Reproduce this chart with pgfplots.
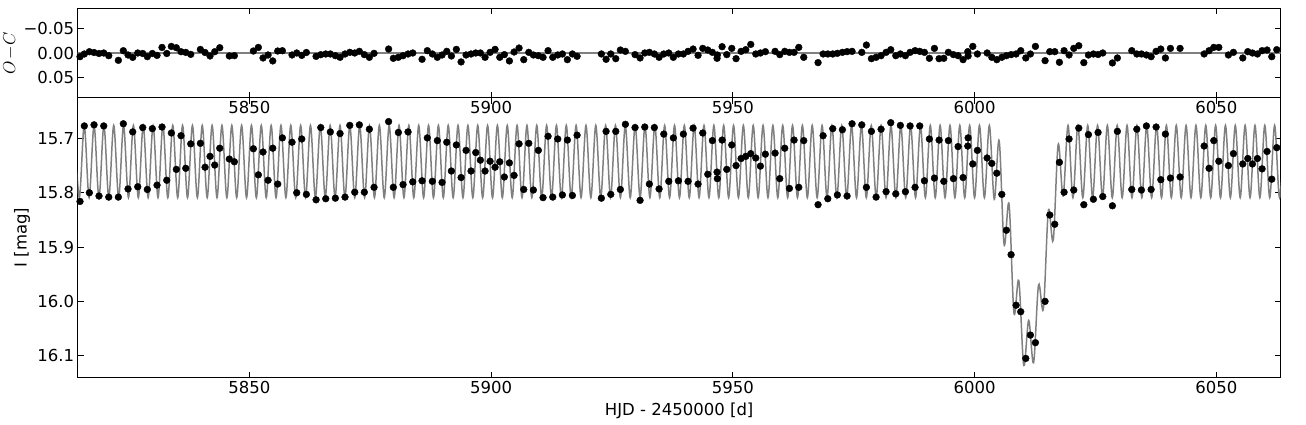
\documentclass[border=0pt]{standalone}
\usepackage{fontspec}
\setmainfont{DejaVu Sans}
\usepackage{pgfplots}
\usepackage{pgfplotstable}
\pgfplotsset{compat=1.18}
\definecolor{modelgray}{rgb}{0.5,0.5,0.5}

\pgfplotstableread{
t m
5814.98 15.816
5815.87 15.677
5816.91 15.800
5817.88 15.675
5818.91 15.806
5819.89 15.677
5820.92 15.808
5822.91 15.808
5823.94 15.673
5824.91 15.793
5825.88 15.688
5826.92 15.789
5827.95 15.680
5828.90 15.794
5829.94 15.682
5830.91 15.786
5831.94 15.679
5832.92 15.777
5833.87 15.690
5834.90 15.757
5835.87 15.695
5836.85 15.755
5837.88 15.710
5839.87 15.709
5840.84 15.753
5841.87 15.733
5842.84 15.749
5843.88 15.718
5845.86 15.738
5846.90 15.743
5850.83 15.719
5851.86 15.767
5852.83 15.725
5853.87 15.777
5854.84 15.718
5855.87 15.784
5856.83 15.699
5858.83 15.707
5859.80 15.800
5860.84 15.701
5861.79 15.803
5863.80 15.813
5864.77 15.680
5865.80 15.811
5866.75 15.688
5867.79 15.810
5868.76 15.691
5869.79 15.808
5870.77 15.676
5871.80 15.799
5872.75 15.675
5873.78 15.799
5874.82 15.683
5875.79 15.790
5878.80 15.669
5879.78 15.790
5880.82 15.689
5881.79 15.785
5882.82 15.688
5883.80 15.780
5885.72 15.778
5886.81 15.699
5887.85 15.779
5888.88 15.704
5889.86 15.781
5890.83 15.707
5891.78 15.760
5892.81 15.712
5893.79 15.772
5894.82 15.722
5895.85 15.760
5896.82 15.726
5897.78 15.740
5898.75 15.760
5899.78 15.742
5900.82 15.753
5901.79 15.743
5902.74 15.771
5903.78 15.745
5904.75 15.768
5905.78 15.710
5906.75 15.794
5907.79 15.709
5908.74 15.795
5909.77 15.722
5910.74 15.809
5911.78 15.696
5912.75 15.808
5913.78 15.701
5914.74 15.804
5915.77 15.703
5916.81 15.805
5917.78 15.694
5922.80 15.810
5923.78 15.687
5924.75 15.803
5925.78 15.687
5926.73 15.794
5927.77 15.674
5929.77 15.680
5930.81 15.814
5931.78 15.679
5932.73 15.784
5933.76 15.680
5934.74 15.793
5935.71 15.692
5936.74 15.779
5937.69 15.699
5938.73 15.778
5939.76 15.692
5940.73 15.779
5941.77 15.681
5942.80 15.784
5943.77 15.690
5944.81 15.766
5945.76 15.704
5946.73 15.762
5946.79 15.774
5947.77 15.703
5948.74 15.757
5949.77 15.712
5950.66 15.750
5951.70 15.737
5952.67 15.733
5953.70 15.728
5954.74 15.736
5955.69 15.751
5956.72 15.729
5958.73 15.727
5959.70 15.774
5960.73 15.718
5961.69 15.792
5962.66 15.703
5963.63 15.790
5964.66 15.704
5967.62 15.822
5968.66 15.695
5969.63 15.811
5970.66 15.682
5971.61 15.804
5972.65 15.684
5973.62 15.806
5974.65 15.673
5976.66 15.675
5977.61 15.790
5978.65 15.687
5979.62 15.808
5980.65 15.683
5981.69 15.798
5982.65 15.671
5983.69 15.802
5984.64 15.676
5985.68 15.798
5986.65 15.677
5987.68 15.790
5988.65 15.677
5989.61 15.778
5990.64 15.701
5991.68 15.773
5992.65 15.703
5993.62 15.779
5994.57 15.704
5995.61 15.774
5996.58 15.715
5997.61 15.772
5998.58 15.714
5998.65 15.699
5999.62 15.747
6000.57 15.722
6002.58 15.736
6003.55 15.746
6004.58 15.764
6005.62 15.803
6006.57 15.869
6007.54 15.914
6008.57 16.007
6009.53 16.019
6010.58 16.105
6011.53 16.062
6012.57 16.076
6014.57 16.000
6015.54 15.841
6016.57 15.858
6017.53 15.744
6018.50 15.799
6019.53 15.701
6020.50 15.795
6021.54 15.681
6022.58 15.822
6023.53 15.693
6024.56 15.812
6025.53 15.689
6026.50 15.807
6028.49 15.824
6029.52 15.687
6032.50 15.794
6033.54 15.683
6034.49 15.795
6035.52 15.677
6036.50 15.794
6037.53 15.679
6038.50 15.776
6039.45 15.692
6040.49 15.773
6042.49 15.771
6047.46 15.714
6048.49 15.755
6049.46 15.704
6050.50 15.742
6052.48 15.750
6053.52 15.728
6055.46 15.747
6056.49 15.737
6057.45 15.747
6058.48 15.737
6059.45 15.756
6060.48 15.724
6061.45 15.775
6062.48 15.717
}\lcdata

\pgfplotstableread{
t oc
5814.98 0.0074
5815.87 0.002
5816.91 -0.0026
5817.88 -0.001
5818.91 0.001
5819.89 0
5820.92 0.0054
5822.91 0.0148
5823.94 -0.0046
5824.91 0.004
5825.88 0.0088
5826.92 0
5827.95 0.001
5828.90 0.0074
5829.94 0.001
5830.91 0.0048
5831.94 -0.0112
5832.92 0.001
5833.87 -0.0132
5834.90 -0.0106
5835.87 -0.0026
5836.85 -0.0012
5837.88 0.0028
5839.87 -0.0072
5840.84 -0.001
5841.87 0.006
5842.84 -0.0026
5843.88 -0.0106
5845.86 0.006
5846.90 0.0054
5850.83 -0.004
5851.86 -0.0112
5852.83 0.01
5853.87 0.004
5854.84 0.016
5855.87 -0.004
5856.83 -0.0046
5858.83 0.004
5859.80 0
5860.84 0.0048
5861.79 -0.001
5863.80 0.0068
5864.77 0.0034
5865.80 0.002
5866.75 0.002
5867.79 0.0054
5868.76 0.0087
5869.79 0.002
5870.77 -0.0013
5871.80 0
5872.75 -0.0033
5873.78 0.0033
5874.82 0.0087
5875.79 0.0007
5878.80 -0.008
5879.78 0.0107
5880.82 0.0087
5881.79 0.0054
5882.82 0.002
5883.80 0
5885.72 0.0127
5886.81 -0.0047
5887.85 0.002
5888.88 0.0087
5889.86 0.004
5890.83 -0.0033
5891.78 0.006
5892.81 -0.0073
5893.79 0.018
5894.82 0.004
5895.85 0.002
5896.82 0
5897.78 0
5898.75 0.0087
5899.78 -0.0013
5900.82 -0.0073
5901.79 0.0087
5902.74 0.0033
5903.78 0.016
5904.75 -0.002
5905.78 -0.01
5906.75 0.0134
5907.79 -0.0013
5908.74 0.004
5909.77 0.0054
5910.74 0.0087
5911.78 -0.0047
5912.75 0.0087
5913.78 0.004
5914.74 0.002
5915.77 0.0134
5916.81 0.002
5917.78 0.0067
5922.80 0.002
5923.78 0.0127
5924.75 0.002
5925.78 0.0114
5926.73 -0.006
5927.77 -0.0033
5929.77 0.0033
5930.81 0.01
5931.78 0
5932.73 -0.0013
5933.76 0.002
5934.74 0.0087
5935.71 0.002
5936.74 0
5937.69 0.0087
5938.73 0.002
5939.76 0.002
5940.73 -0.0033
5941.77 -0.008
5942.80 0.0047
5943.77 -0.0093
5944.81 -0.006
5945.76 -0.0013
5946.73 0.0107
5946.79 0.004
5947.77 -0.0127
5948.74 0.0033
5949.77 -0.0093
5950.66 0.0114
5951.70 -0.0033
5952.67 -0.0067
5953.70 -0.0173
5954.74 0.002
5955.69 0
5956.72 -0.0027
5958.73 -0.0033
5959.70 0.0033
5960.73 -0.0033
5961.69 -0.0013
5962.66 -0.0013
5963.63 -0.0113
5964.66 0.0087
5967.62 0.0194
5968.66 0.002
5969.63 0.002
5970.66 0.002
5971.61 0.0007
5972.65 -0.0013
5973.62 -0.0027
5974.65 -0.0033
5976.66 -0.0013
5977.61 -0.016
5978.65 0.0114
5979.62 0.0087
5980.65 0.0054
5981.69 -0.0013
5982.65 -0.0067
5983.69 0.0054
5984.64 0.002
5985.68 0.0054
5986.65 -0.0013
5987.68 -0.0047
5988.65 -0.0033
5989.61 -0.0013
5990.64 0.0107
5991.68 -0.0093
5992.65 0.0114
5993.62 0.0107
5994.57 -0.0013
5995.61 0.0033
5996.58 0.0054
5997.61 0.0134
5998.58 -0.0027
5998.65 0.006
5999.62 -0.0133
6000.57 0.002
6002.58 0
6003.55 0.0087
6004.58 0.0134
6005.62 0.0087
6006.57 0.0054
6007.54 0.0033
6008.57 0.002
6009.53 -0.0047
6010.58 0.01
6011.53 0.002
6012.57 -0.0133
6014.57 0.0154
6015.54 -0.0027
6016.57 -0.0027
6017.53 0.0187
6018.50 -0.0047
6019.53 0.004
6020.50 -0.0093
6021.54 -0.0147
6022.58 0.0194
6023.53 0.004
6024.56 0.002
6025.53 0.003
6026.50 0
6028.49 0.02
6029.52 0.01
6032.50 -0.0047
6033.54 0.002
6034.49 0.002
6035.52 0.004
6036.50 0.0074
6037.53 -0.0033
6038.50 -0.008
6039.45 0.01
6040.49 -0.0093
6042.49 -0.0093
6047.46 0.002
6048.49 -0.0047
6049.46 -0.0113
6050.50 -0.0113
6052.48 0.004
6053.52 -0.0013
6055.46 0.01
6056.49 -0.0027
6057.45 0
6058.48 0.002
6059.45 -0.0047
6060.48 -0.006
6061.45 0.0074
6062.48 -0.0067
}\ocdata

\begin{document}
\begin{tikzpicture}
\pgfplotsset{
  every axis/.append style={
    scale only axis, width=1203pt,
    xmin=5814.5, xmax=6063.3,
    tick align=inside, major tick length=6pt,
    every tick/.style={black, line width=0.8pt},
    axis line style={line width=1pt},
    tick label style={font=\fontsize{16.5}{20}\selectfont},
    label style={font=\fontsize{16.5}{20}\selectfont},
    xtick={5850,5900,5950,6000,6050},
    xticklabels={5850,5900,5950,6000,6050},
    scaled x ticks=false, scaled y ticks=false,
  }
}
\begin{axis}[at={(0pt,0pt)}, anchor=south west, height=280pt,
  y dir=reverse, ymin=15.625, ymax=16.1405,
  ytick={15.7,15.8,15.9,16.0,16.1},
  yticklabels={15.7,15.8,15.9,16.0,16.1},
  xlabel={HJD - 2450000 [d]}, ylabel={I [mag]},
  xlabel style={at={(axis description cs:0.5,-0.119)}, anchor=center},
  ylabel style={at={(axis description cs:-0.0463,0.5)}, anchor=center},
]
\addplot[modelgray, line width=1.5pt, smooth, tension=0.55, no markers] coordinates {
(5813.81,15.676) (5814.83,15.809)
(5815.85,15.676) (5816.86,15.809) (5817.88,15.676) (5818.90,15.809) (5819.92,15.676) (5820.93,15.809) (5821.95,15.676) (5822.97,15.809) (5823.98,15.676) (5825.00,15.809)
(5826.02,15.676) (5827.04,15.809) (5828.05,15.676) (5829.07,15.809) (5830.09,15.676) (5831.11,15.809) (5832.12,15.676) (5833.14,15.809) (5834.16,15.676) (5835.18,15.809)
(5836.19,15.676) (5837.21,15.809) (5838.23,15.676) (5839.25,15.809) (5840.26,15.676) (5841.28,15.809) (5842.30,15.676) (5843.31,15.809) (5844.33,15.676) (5845.35,15.809)
(5846.37,15.676) (5847.38,15.809) (5848.40,15.676) (5849.42,15.809) (5850.44,15.676) (5851.45,15.809) (5852.47,15.676) (5853.49,15.809) (5854.51,15.676) (5855.52,15.809)
(5856.54,15.676) (5857.56,15.809) (5858.57,15.676) (5859.59,15.809) (5860.61,15.676) (5861.63,15.809) (5862.64,15.676) (5863.66,15.809) (5864.68,15.676) (5865.70,15.809)
(5866.71,15.676) (5867.73,15.809) (5868.75,15.676) (5869.77,15.809) (5870.78,15.676) (5871.80,15.809) (5872.82,15.676) (5873.84,15.809) (5874.85,15.676) (5875.87,15.809)
(5876.89,15.676) (5877.90,15.809) (5878.92,15.676) (5879.94,15.809) (5880.96,15.676) (5881.97,15.809) (5882.99,15.676) (5884.01,15.809) (5885.03,15.676) (5886.04,15.809)
(5887.06,15.676) (5888.08,15.809) (5889.10,15.676) (5890.11,15.809) (5891.13,15.676) (5892.15,15.809) (5893.16,15.676) (5894.18,15.809) (5895.20,15.676) (5896.22,15.809)
(5897.23,15.676) (5898.25,15.809) (5899.27,15.676) (5900.29,15.809) (5901.30,15.676) (5902.32,15.809) (5903.34,15.676) (5904.36,15.809) (5905.37,15.676) (5906.39,15.809)
(5907.41,15.676) (5908.42,15.809) (5909.44,15.676) (5910.46,15.809) (5911.48,15.676) (5912.49,15.809) (5913.51,15.676) (5914.53,15.809) (5915.55,15.676) (5916.56,15.809)
(5917.58,15.676) (5918.60,15.809) (5919.62,15.676) (5920.63,15.809) (5921.65,15.676) (5922.67,15.809) (5923.69,15.676) (5924.70,15.809) (5925.72,15.676) (5926.74,15.809)
(5927.75,15.676) (5928.77,15.809) (5929.79,15.676) (5930.81,15.809) (5931.82,15.676) (5932.84,15.809) (5933.86,15.676) (5934.88,15.809) (5935.89,15.676) (5936.91,15.809)
(5937.93,15.676) (5938.95,15.809) (5939.96,15.676) (5940.98,15.809) (5942.00,15.676) (5943.01,15.809) (5944.03,15.676) (5945.05,15.809) (5946.07,15.676) (5947.08,15.809)
(5948.10,15.676) (5949.12,15.809) (5950.14,15.676) (5951.15,15.809) (5952.17,15.676) (5953.19,15.809) (5954.21,15.676) (5955.22,15.809) (5956.24,15.676) (5957.26,15.809)
(5958.28,15.676) (5959.29,15.809) (5960.31,15.676) (5961.33,15.809) (5962.34,15.676) (5963.36,15.809) (5964.38,15.676) (5965.40,15.809) (5966.41,15.676) (5967.43,15.809)
(5968.45,15.676) (5969.47,15.809) (5970.48,15.676) (5971.50,15.809) (5972.52,15.676) (5973.54,15.809) (5974.55,15.676) (5975.57,15.809) (5976.59,15.676) (5977.60,15.809)
(5978.62,15.676) (5979.64,15.809) (5980.66,15.676) (5981.67,15.809) (5982.69,15.676) (5983.71,15.809) (5984.73,15.676) (5985.74,15.809) (5986.76,15.676) (5987.78,15.809)
(5988.80,15.676) (5989.81,15.809) (5990.83,15.676) (5991.85,15.809) (5992.86,15.676) (5993.88,15.809) (5994.90,15.676) (5995.92,15.809) (5996.93,15.676) (5997.95,15.809)
(5998.97,15.676) (5999.99,15.809) (6001.00,15.676) (6002.02,15.809) (6003.04,15.676) (6004.06,15.812) (6005.07,15.704) (6006.09,15.895) (6007.11,15.821) (6008.13,16.021)
(6009.14,15.962) (6010.16,16.118) (6011.18,16.035) (6012.19,16.113) (6013.21,15.970) (6014.23,16.013) (6015.25,15.833) (6016.26,15.887) (6017.28,15.711) (6018.30,15.806)
(6019.32,15.676) (6020.33,15.809) (6021.35,15.676) (6022.37,15.809) (6023.39,15.676) (6024.40,15.809) (6025.42,15.676) (6026.44,15.809) (6027.45,15.676) (6028.47,15.809)
(6029.49,15.676) (6030.51,15.809) (6031.52,15.676) (6032.54,15.809) (6033.56,15.676) (6034.58,15.809) (6035.59,15.676) (6036.61,15.809) (6037.63,15.676) (6038.65,15.809)
(6039.66,15.676) (6040.68,15.809) (6041.70,15.676) (6042.72,15.809) (6043.73,15.676) (6044.75,15.809) (6045.77,15.676) (6046.78,15.809) (6047.80,15.676) (6048.82,15.809)
(6049.84,15.676) (6050.85,15.809) (6051.87,15.676) (6052.89,15.809) (6053.91,15.676) (6054.92,15.809) (6055.94,15.676) (6056.96,15.809) (6057.98,15.676) (6058.99,15.809)
(6060.01,15.676) (6061.03,15.809) (6062.04,15.676) (6063.06,15.809) (6064.08,15.676)
};
\addplot[only marks, mark=*, mark size=3.4pt, black] table[x=t, y=m] {\lcdata};
\end{axis}

\begin{axis}[at={(0pt,280pt)}, anchor=south west, height=89.4pt,
  y dir=reverse, ymin=-0.09, ymax=0.09,
  ytick={-0.05,0,0.05},
  yticklabels={−0.05,0.00,0.05},
  ylabel={$O\!-\!C$},
  ylabel style={at={(axis description cs:-0.0563,0.5)}, anchor=center},
]
\addplot[modelgray, line width=1.5pt, no markers] coordinates {(5800,0) (6080,0)};
\addplot[only marks, mark=*, mark size=3.4pt, black] table[x=t, y=oc] {\ocdata};
\end{axis}
\pgfresetboundingbox
\path[use as bounding box] (-77.7pt,-47.3pt) rectangle (1228.3pt,377.7pt);
\end{tikzpicture}
\end{document}
